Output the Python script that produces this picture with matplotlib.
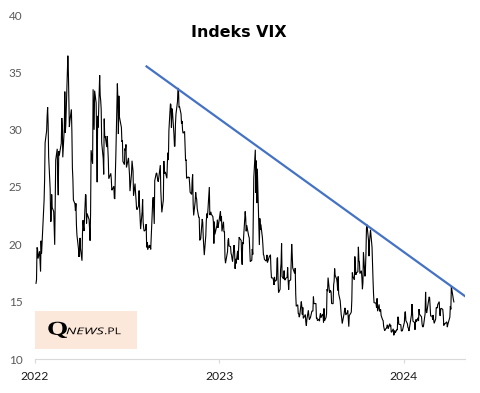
import matplotlib
matplotlib.use("Agg")
import matplotlib.pyplot as plt
import pandas as pd
from pandas.tseries.offsets import CustomBusinessDay
from matplotlib.patches import Rectangle, PathPatch
from matplotlib.textpath import TextPath
from matplotlib.font_manager import FontProperties
from matplotlib.transforms import Affine2D, IdentityTransform

# ---------------- data ----------------
title = "Indeks VIX"
year_ticks = ["2022-01-01", "2023-01-01", "2024-01-01"]
year_labels = ["2022", "2023", "2024"]
y_ticks = [10, 15, 20, 25, 30, 35, 40]

market_holidays = [
    "2022-01-17", "2022-02-21", "2022-04-15", "2022-05-30", "2022-06-20", "2022-07-04",
    "2022-09-05", "2022-11-24", "2022-12-26",
    "2023-01-02", "2023-01-16", "2023-02-20", "2023-04-07", "2023-05-29", "2023-06-19",
    "2023-07-04", "2023-09-04", "2023-11-23", "2023-12-25",
    "2024-01-01", "2024-01-15", "2024-02-19", "2024-03-29",
]

vix_2022 = [
    # Jan
    16.60, 16.91, 19.73, 19.61, 18.76, 19.40, 18.41, 17.62, 20.31, 19.19,
    22.79, 23.85, 25.59, 28.85, 29.90, 31.16, 31.96, 30.49, 27.66, 24.83,
    # Feb
    21.96, 22.09, 24.35, 23.22, 22.86, 21.44, 19.96, 23.91, 27.36, 28.33,
    25.70, 24.29, 28.11, 27.75, 28.81, 31.02, 30.32, 27.59, 30.15,
    # Mar
    33.32, 29.74, 30.48, 31.98, 36.45, 35.13, 32.45, 30.23, 30.75, 31.77,
    29.83, 26.67, 25.67, 23.87, 23.53, 22.94, 23.57, 21.67, 20.81, 19.63,
    18.90, 19.33, 20.56,
    # Apr
    19.63, 18.57, 21.03, 22.10, 21.55, 21.16, 24.37, 24.26, 21.82, 22.70,
    22.17, 21.37, 20.32, 22.68, 28.21, 27.02, 33.52, 31.60, 29.99, 33.40,
    # May
    32.34, 29.25, 25.42, 31.20, 30.19, 34.75, 32.99, 32.56, 31.77, 28.87,
    27.47, 26.10, 30.96, 29.35, 29.43, 28.48, 29.45, 28.37, 27.50, 25.72, 26.19,
    # Jun
    25.69, 24.72, 24.79, 25.07, 24.02, 23.96, 26.09, 27.75, 34.02, 32.69,
    29.62, 32.95, 31.13, 30.19, 28.95, 29.05, 27.23, 26.95, 28.36, 28.16, 28.71,
    # Jul
    26.70, 27.54, 26.73, 26.08, 24.64, 26.17, 27.29, 26.82, 26.40, 24.23,
    25.30, 24.50, 23.88, 23.11, 23.03, 23.36, 24.69, 23.24, 22.33, 21.33,
    # Aug
    22.84, 23.93, 21.95, 21.44, 21.15, 21.29, 21.77, 19.74, 20.20, 19.53,
    19.95, 19.69, 19.90, 19.56, 20.60, 23.80, 24.11, 22.82, 21.78, 25.56,
    26.21, 26.21, 25.87,
    # Sep
    25.56, 25.47, 26.91, 24.64, 23.61, 22.79, 23.87, 27.27, 26.16, 26.27,
    26.30, 25.76, 27.16, 27.99, 27.35, 29.92, 32.26, 32.18, 30.18, 31.84, 31.62,
    # Oct
    29.59, 28.55, 28.55, 30.52, 31.36, 32.45, 33.63, 33.57, 31.94, 32.02,
    31.37, 30.50, 30.76, 29.98, 29.69, 29.85, 28.46, 27.28, 27.39, 25.75, 25.88,
    # Nov
    25.81, 25.86, 25.30, 24.55, 24.35, 25.54, 26.09, 23.53, 22.52, 23.73,
    24.54, 24.11, 23.93, 23.12, 22.36, 22.36, 20.35, 20.50, 22.21, 21.89, 20.58,
    # Dec
    19.84, 19.06, 20.75, 22.01, 22.68, 22.29, 22.83, 25.00, 22.55, 22.68,
    22.83, 22.62, 22.42, 21.97, 20.07, 21.97, 20.87, 21.65, 22.14, 21.44, 21.67,
]

vix_2023 = [
    # Jan
    22.90, 22.01, 22.46, 21.13, 21.97, 21.07, 21.09, 18.83, 18.35, 19.36,
    20.34, 20.52, 19.85, 19.81, 19.20, 19.08, 18.73, 18.51, 19.94, 19.40,
    # Feb
    17.87, 18.73, 18.33, 19.43, 18.66, 19.63, 20.63, 20.53, 20.34, 18.91,
    18.23, 20.17, 20.02, 22.87, 22.29, 21.14, 21.67, 20.95, 20.70,
    # Mar
    20.58, 19.59, 18.49, 18.61, 19.59, 19.11, 22.61, 25.80, 28.25, 24.50,
    27.30, 23.60, 26.60, 21.38, 19.94, 22.26, 21.27, 21.74, 20.60, 19.97,
    19.12, 19.02, 18.70,
    # Apr
    18.55, 18.58, 19.08, 18.40, 18.97, 18.97, 19.09, 17.80, 17.07, 17.07,
    16.83, 16.46, 17.16, 16.77, 16.89, 18.76, 18.84, 16.96, 15.78,
    # May
    16.08, 17.78, 18.34, 20.09, 17.19, 16.98, 17.71, 16.94, 16.88, 17.03,
    17.12, 17.99, 16.87, 16.05, 16.81, 16.90, 18.53, 20.03, 19.14, 17.95,
    17.46, 17.94,
    # Jun
    15.65, 14.60, 14.73, 13.96, 13.94, 13.65, 13.83, 15.01, 14.61, 13.88,
    14.50, 13.54, 13.88, 13.20, 12.91, 13.44, 14.25, 13.74, 13.43, 13.54, 13.59,
    # Jul
    14.18, 14.18, 15.44, 14.83, 14.84, 14.84, 13.54, 13.61, 13.34, 13.48,
    13.30, 13.76, 13.99, 13.60, 13.91, 13.86, 13.19, 14.41, 13.33, 13.63,
    # Aug
    13.93, 16.09, 15.92, 17.10, 15.77, 15.99, 15.96, 15.85, 14.84, 14.82,
    16.46, 16.78, 17.89, 17.30, 16.97, 16.67, 15.98, 17.20, 15.68, 15.08,
    14.45, 13.88, 13.57,
    # Sep
    13.09, 14.02, 14.45, 14.40, 13.84, 14.05, 14.23, 13.48, 12.82, 13.79,
    14.00, 14.11, 15.14, 17.54, 17.20, 16.90, 18.94, 18.22, 17.34, 17.52,
    # Oct
    17.61, 19.78, 18.58, 18.49, 17.45, 17.70, 17.03, 16.09, 16.69, 19.32,
    17.21, 17.88, 19.22, 21.40, 21.71, 20.37, 18.97, 20.19, 20.68, 21.27,
    19.75, 18.14,
    # Nov
    16.87, 15.66, 14.91, 14.89, 14.81, 14.45, 15.29, 14.17, 14.76, 14.16,
    14.18, 14.32, 13.80, 13.41, 13.35, 12.85, 12.46, 12.69, 12.69, 12.98, 12.92,
    # Dec
    12.63, 13.08, 12.85, 12.97, 12.35, 12.35, 12.63, 12.07, 12.19, 12.48,
    12.28, 12.56, 12.53, 13.67, 13.65, 13.03, 12.99, 12.43, 12.47, 12.45,
]

vix_2024 = [
    # Jan
    13.20, 14.04, 14.13, 13.35, 13.08, 12.76, 12.69, 12.44, 12.70, 13.84,
    14.79, 14.13, 13.30, 13.19, 12.55, 13.14, 13.45, 13.26, 13.60, 13.31, 14.35,
    # Feb
    13.88, 13.85, 13.67, 13.06, 12.83, 12.79, 12.93, 13.93, 15.85, 14.38,
    14.01, 14.24, 15.42, 15.34, 14.54, 13.75, 13.74, 13.43, 13.84, 13.40,
    # Mar
    13.11, 13.49, 14.46, 14.50, 14.44, 14.74, 15.00, 13.93, 13.75, 14.40,
    14.41, 14.33, 13.82, 12.92, 13.06, 13.06, 13.19, 13.24, 12.78, 13.01,
    # Apr
    13.65, 14.61, 14.33, 16.35, 16.03, 15.19, 14.98,
]

trend_dates = ["2022-08-08", "2024-05-07"]
trend_values = [35.57, 15.29]

logo_parts = ["Q", "NEWS", ".PL"]

# ---------------- build series ----------------
vix = vix_2022 + vix_2023 + vix_2024
bday = CustomBusinessDay(holidays=pd.to_datetime(market_holidays))
dates = pd.date_range("2022-01-03", periods=len(vix), freq=bday)

# ---------------- figure ----------------
W, H = 480, 393
fig = plt.figure(figsize=(W / 100, H / 100), dpi=100)
ax = fig.add_axes([35 / W, 1 - 359 / H, 430 / W, 344 / H])

ax.plot(dates, vix, color="black", lw=0.8, solid_joinstyle="miter")
ax.plot(pd.to_datetime(trend_dates), trend_values, color="#4472C4", lw=1.6,
        solid_capstyle="butt")

ax.set_xlim(pd.Timestamp("2022-01-01"), pd.Timestamp("2024-05-01"))
ax.set_ylim(10, 40)
ax.set_yticks(y_ticks)
ax.set_yticklabels([str(v) for v in y_ticks], fontsize=8.5, color="#595959",
                   family="Lato")
ax.set_xticks(pd.to_datetime(year_ticks))
ax.set_xticklabels(year_labels, fontsize=8.7, color="#1a1a1a", family="Lato")

for s in ["left", "right", "top"]:
    ax.spines[s].set_visible(False)
ax.spines["bottom"].set_color("#D9D9D9")
ax.spines["bottom"].set_linewidth(0.8)
ax.tick_params(axis="y", length=0, pad=9)
ax.tick_params(axis="x", length=3, width=0.8, color="#D9D9D9", pad=6)

fig.text(239 / W, 1 - 32.5 / H, title, ha="center", va="center",
         fontsize=11.4, fontweight="bold", family="DejaVu Sans", color="black")

# logo box
ax.add_patch(Rectangle((0, 10 / 344), 102 / 430, 38 / 344, transform=ax.transAxes,
                       facecolor="#FCE8DA", edgecolor="none", zorder=3))


def fitted_text(s, prop, x0, x1, y_top, y_bot):
    """Draw text s scaled into pixel box (x0..x1, y_top..y_bot), y measured from top."""
    tp = TextPath((0, 0), s, size=1, prop=prop)
    ext = tp.get_extents()
    sx = (x1 - x0) / ext.width
    sy = (y_bot - y_top) / ext.height
    tr = (Affine2D().translate(-ext.x0, -ext.y0).scale(sx, sy)
          .translate(x0, H - y_bot))
    patch = PathPatch(tr.transform_path(tp), facecolor="black", edgecolor="none",
                      transform=IdentityTransform(), zorder=6)
    fig.add_artist(patch)


fitted_text(logo_parts[0], FontProperties(family="Liberation Serif", weight="bold"),
            48.3, 67.0, 321.7, 338.0)
fitted_text(logo_parts[1], FontProperties(family="Open Sans", style="italic"),
            66.5, 104.0, 327.5, 334.3)
fitted_text(logo_parts[2], FontProperties(family="Open Sans"),
            105.0, 120.7, 327.5, 334.3)

fig.savefig("out.png", dpi=100)
